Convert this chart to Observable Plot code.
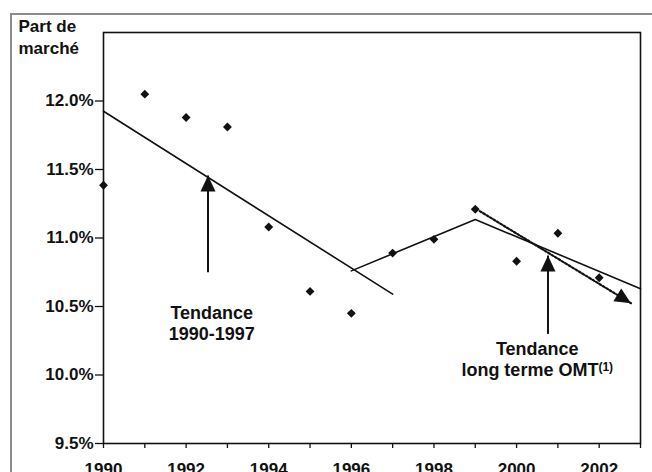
<!DOCTYPE html>
<html>
<head>
<meta charset="utf-8">
<script src="https://cdn.jsdelivr.net/npm/d3@7"></script>
<script src="https://cdn.jsdelivr.net/npm/@observablehq/plot@0.6"></script>
<style>
  body { margin: 0; background: #fff; }
  #wrap { position: relative; width: 652px; height: 472px; overflow: hidden; background: #fff; }
  #wrap svg { display: block; }
  #border { position: absolute; left: 10px; top: 13px; width: 700px; height: 520px;
            border: 2px solid #8c8c8c; box-sizing: border-box; pointer-events: none; }
</style>
</head>
<body>
<div id="wrap"><div id="border"></div></div>
<script>
// ---- data ----
const years = [1990, 1991, 1992, 1993, 1994, 1995, 1996, 1997, 1998, 1999, 2000, 2001, 2002];
const share = [11.385, 12.05, 11.88, 11.81, 11.08, 10.61, 10.45, 10.89, 10.99, 11.21, 10.83, 11.035, 10.71];

const trend9097Years = [1990, 1997];
const trend9097Values = [11.925, 10.59];

const trendOMTYears = [1996, 1999, 2003];
const trendOMTValues = [10.76, 11.135, 10.63];

const dottedYears = [1999.11, 2002.77];
const dottedValues = [11.196, 10.524];

const arrowYears = [1992.53, 2000.76];
const arrowFrom = [10.75, 10.30];
const arrowTo = [11.456, 10.872];

const labelYears = [1992.62, 2000.5];
const labelValues = [10.522, 10.26];
const labelTexts = ["Tendance\n1990-1997", "Tendance\nlong terme OMT"];
const footnoteMark = "(1)";

const yTicks = [9.5, 10.0, 10.5, 11.0, 11.5, 12.0];
const xTicks = [1990, 1991, 1992, 1993, 1994, 1995, 1996, 1997, 1998, 1999, 2000, 2001, 2002, 2003];
const yTitle = "Part de\nmarché";

// ---- layout ----
const W = 652, H = 472;
const mL = 103, mR = 12, mT = 32, mB = 29;
const xDomain = [1990, 2003], yDomain = [9.5, 12.5];
const font = "'Liberation Sans', Arial, Helvetica, sans-serif";

const points = years.map((y, i) => ({year: y, v: share[i]}));
const t1 = trend9097Years.map((y, i) => ({year: y, v: trend9097Values[i]}));
const t2 = trendOMTYears.map((y, i) => ({year: y, v: trendOMTValues[i]}));
const dotted = dottedYears.map((y, i) => ({year: y, v: dottedValues[i]}));
const arrows = arrowYears.map((y, i) => ({year: y, from: arrowFrom[i], to: arrowTo[i]}));
const labels = labelYears.map((y, i) => ({year: y, v: labelValues[i], text: labelTexts[i]}));

// rotation of the dotted arrow head, from the scales
const xs = Plot.scale({x: {domain: xDomain, range: [mL, W - mR]}});
const ys = Plot.scale({y: {domain: yDomain, range: [H - mB, mT]}});
const dx = xs.apply(dottedYears[1]) - xs.apply(dottedYears[0]);
const dy = ys.apply(dottedValues[1]) - ys.apply(dottedValues[0]);
const headAngle = 90 + Math.atan2(dy, dx) * 180 / Math.PI;

const heads = [
  ...arrows.map(a => ({year: a.year, v: a.to, rot: 0})),
  {year: dottedYears[1], v: dottedValues[1], rot: headAngle}
];

// filled triangle, tip at origin, pointing up
const triangleHead = {
  draw(ctx) {
    ctx.moveTo(0, 0);
    ctx.lineTo(7.5, 16);
    ctx.lineTo(-7.5, 16);
    ctx.closePath();
  }
};

const chart = Plot.plot({
  width: W, height: H,
  marginLeft: mL, marginRight: mR, marginTop: mT, marginBottom: mB,
  x: {domain: xDomain},
  y: {domain: yDomain},
  style: {fontFamily: font, fontSize: "17px", fontWeight: "bold", color: "#111", background: "#fff"},
  marks: [
    Plot.axisY(yTicks, {tickSize: 8, tickPadding: 2, tickFormat: d => d.toFixed(1) + "%", label: null, stroke: "#111", strokeWidth: 1.3}),
    Plot.axisX(xTicks, {tickSize: 5, tickPadding: 14, tickFormat: d => d % 2 === 0 ? String(d) : "", label: null, stroke: "#111", strokeWidth: 1.3}),
    Plot.line(t1, {x: "year", y: "v", stroke: "#111", strokeWidth: 1.6}),
    Plot.line(t2, {x: "year", y: "v", stroke: "#111", strokeWidth: 1.6}),
    Plot.line(dotted, {x: "year", y: "v", stroke: "#111", strokeWidth: 2.2, strokeDasharray: "2,2"}),
    Plot.link(arrows, {x1: "year", x2: "year", y1: "from", y2: "to", stroke: "#111", strokeWidth: 2}),
    Plot.dot(heads, {x: "year", y: "v", symbol: triangleHead, rotate: "rot", fill: "#111", stroke: "none"}),
    Plot.dot(points, {x: "year", y: "v", symbol: "diamond2", r: 4, fill: "#111", stroke: "none"}),
    Plot.text(labels, {x: "year", y: "v", text: "text", lineAnchor: "top", textAnchor: "middle",
      fontSize: 18, fontWeight: "bold", fill: "#111", lineHeight: 1.2}),
    Plot.text([yTitle], {frameAnchor: "top-left", textAnchor: "start", lineAnchor: "top",
      dx: -(mL - 18), dy: -16, fontSize: 17, fontWeight: "bold", fill: "#111", lineHeight: 1.29}),
    Plot.frame({stroke: "#111", strokeWidth: 1.6})
  ]
});

// superscript footnote mark after "long terme OMT"
d3.select(chart).selectAll("tspan").each(function() {
  if (this.textContent === "long terme OMT") {
    d3.select(this).append("tspan")
      .attr("font-size", 12)
      .attr("dy", "-0.45em")
      .text(footnoteMark);
  }
});

document.getElementById("wrap").insertBefore(chart, document.getElementById("border"));
</script>
</body>
</html>
